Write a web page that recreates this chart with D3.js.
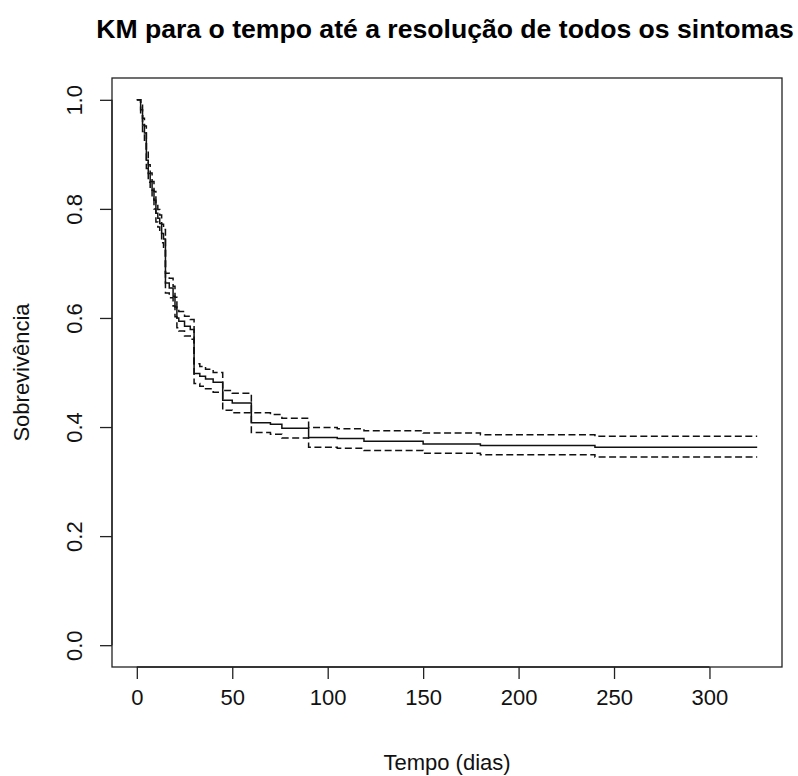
<!DOCTYPE html>
<html>
<head>
<meta charset="utf-8">
<script src="https://cdn.jsdelivr.net/npm/d3@7"></script>
<style>
  html, body { margin: 0; padding: 0; background: #fff; }
  svg { display: block; font-family: "Liberation Sans", Arial, sans-serif; }
</style>
</head>
<body>
<script>
// Kaplan-Meier estimate: event times (days), survival and 95% confidence band
const times = [0, 2, 3, 4, 5, 6, 7, 8, 9, 10, 11, 12, 13, 14, 15, 17, 19, 20, 21, 22, 25, 28,
               30, 33, 36, 40, 45, 50, 60, 70, 76, 90, 105, 119, 150, 180, 240];
const surv  = [1.000, 0.982, 0.954, 0.939, 0.889, 0.865, 0.850, 0.834, 0.816, 0.792, 0.783, 0.773, 0.755, 0.745, 0.664, 0.655, 0.640, 0.620, 0.600, 0.594, 0.585, 0.579,
               0.498, 0.493, 0.488, 0.482, 0.449, 0.444, 0.408, 0.405, 0.398, 0.381, 0.379, 0.374, 0.369, 0.366, 0.363];
const upper = [1.000, 0.990, 0.966, 0.952, 0.904, 0.881, 0.866, 0.850, 0.832, 0.808, 0.799, 0.789, 0.772, 0.762, 0.682, 0.673, 0.658, 0.638, 0.618, 0.612, 0.603, 0.597,
               0.516, 0.511, 0.506, 0.500, 0.467, 0.462, 0.426, 0.423, 0.416, 0.399, 0.397, 0.393, 0.389, 0.386, 0.383];
const lower = [1.000, 0.974, 0.942, 0.926, 0.874, 0.849, 0.834, 0.818, 0.800, 0.776, 0.767, 0.757, 0.738, 0.728, 0.646, 0.637, 0.622, 0.602, 0.582, 0.576, 0.567, 0.561,
               0.480, 0.475, 0.470, 0.464, 0.431, 0.426, 0.390, 0.387, 0.380, 0.363, 0.361, 0.357, 0.352, 0.349, 0.345];
const lastTime = 325;

const xTicks = [0, 50, 100, 150, 200, 250, 300];
const yTicks = [0.0, 0.2, 0.4, 0.6, 0.8, 1.0];

const title  = "KM para o tempo até a resolução de todos os sintomas";
const xLabel = "Tempo (dias)";
const yLabel = "Sobrevivência";

const W = 798, H = 776;
const box = { left: 112, right: 782, top: 78, bottom: 667 };

const svg = d3.select("body").append("svg")
  .attr("width", W).attr("height", H);

// R-style axis ranges: data range padded by 4% on each side
const pad = 0.04 * lastTime;
const x = d3.scaleLinear().domain([-pad, lastTime + pad]).range([box.left, box.right]);
const y = d3.scaleLinear().domain([-0.04, 1.04]).range([box.bottom, box.top]);

// plot frame
svg.append("rect")
  .attr("x", box.left).attr("y", box.top)
  .attr("width", box.right - box.left).attr("height", box.bottom - box.top)
  .attr("fill", "none").attr("stroke", "#222").attr("stroke-width", 1.3);

// x axis
const xAxis = d3.axisBottom(x).tickValues(xTicks).tickSize(12).tickPadding(10)
  .tickFormat(d3.format("d"));
const gx = svg.append("g").attr("transform", `translate(0,${box.bottom})`).call(xAxis);
gx.select(".domain").attr("d", `M${x(xTicks[0])},0H${x(xTicks[xTicks.length - 1])}`)
  .attr("stroke", "#222").attr("stroke-width", 1.3);
gx.selectAll(".tick line").attr("stroke", "#222").attr("stroke-width", 1.3);
gx.selectAll(".tick text").attr("font-size", 22).attr("fill", "#111")
  .attr("font-family", "Liberation Sans, Arial, sans-serif");

// y axis with labels rotated parallel to the axis
const yAxis = d3.axisLeft(y).tickValues(yTicks).tickSize(12).tickFormat(d3.format(".1f"));
const gy = svg.append("g").attr("transform", `translate(${box.left},0)`).call(yAxis);
gy.select(".domain").attr("d", `M0,${y(yTicks[0])}V${y(yTicks[yTicks.length - 1])}`)
  .attr("stroke", "#222").attr("stroke-width", 1.3);
gy.selectAll(".tick line").attr("stroke", "#222").attr("stroke-width", 1.3);
gy.selectAll(".tick text")
  .attr("font-size", 22).attr("fill", "#111")
  .attr("font-family", "Liberation Sans, Arial, sans-serif")
  .attr("x", null).attr("dy", null)
  .attr("text-anchor", "middle")
  .attr("transform", "translate(-38,0) rotate(-90)")
  .attr("dominant-baseline", "central");

// step curves
const rows = times.map((t, i) => ({ t, s: surv[i], u: upper[i], l: lower[i] }));
rows.push({ t: lastTime, s: surv[surv.length - 1], u: upper[upper.length - 1], l: lower[lower.length - 1] });

const step = key => d3.line().x(d => x(d.t)).y(d => y(d[key])).curve(d3.curveStepAfter);

svg.append("path").datum(rows).attr("d", step("u"))
  .attr("fill", "none").attr("stroke", "#111").attr("stroke-width", 1.5)
  .attr("stroke-dasharray", "7,3.5");
svg.append("path").datum(rows).attr("d", step("l"))
  .attr("fill", "none").attr("stroke", "#111").attr("stroke-width", 1.5)
  .attr("stroke-dasharray", "7,3.5");
svg.append("path").datum(rows).attr("d", step("s"))
  .attr("fill", "none").attr("stroke", "#111").attr("stroke-width", 1.5);

// titles
svg.append("text")
  .attr("x", (box.left + box.right) / 2 - 2).attr("y", 38)
  .attr("text-anchor", "middle").attr("font-size", 26.6).attr("font-weight", "bold")
  .attr("fill", "#000").text(title);

svg.append("text")
  .attr("x", (box.left + box.right) / 2).attr("y", 770)
  .attr("text-anchor", "middle").attr("font-size", 22).attr("fill", "#111")
  .text(xLabel);

svg.append("text")
  .attr("transform", `translate(29,${(box.top + box.bottom) / 2}) rotate(-90)`)
  .attr("text-anchor", "middle").attr("font-size", 22).attr("fill", "#111")
  .text(yLabel);
</script>
</body>
</html>
